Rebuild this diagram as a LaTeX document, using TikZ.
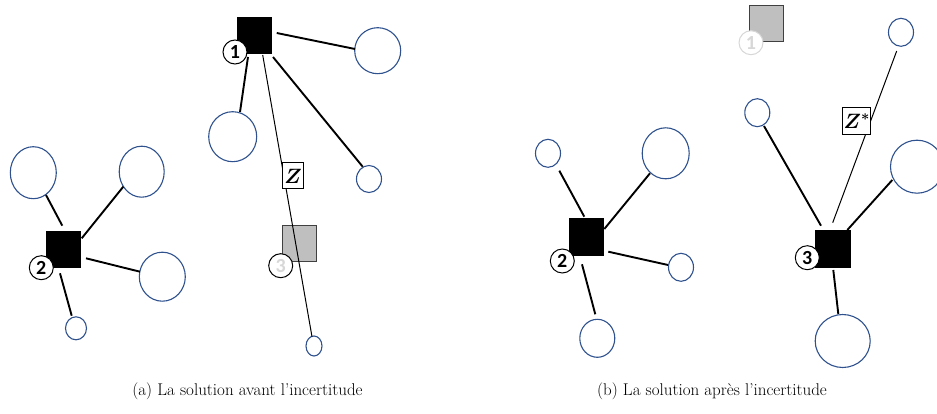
\documentclass[tikz,border=0pt]{standalone}
\usepackage{fontspec}
\usepackage{bm}
\newfontfamily\labfont{Carlito}
\usetikzlibrary{shapes.geometric,calc}
\definecolor{circblue}{RGB}{47,82,143}
\definecolor{boxgray}{RGB}{191,191,191}
\definecolor{boxedge}{RGB}{64,64,64}
\definecolor{fadegray}{RGB}{215,215,215}
\tikzset{
  cust/.style={ellipse, draw=circblue, line width=1.1pt, fill=white, inner sep=0pt},
  dims/.style 2 args={minimum width=#1pt, minimum height=#2pt},
  fac/.style={rectangle, fill=black, minimum width=35pt, minimum height=37pt, inner sep=0pt},
  facoff/.style={rectangle, fill=boxgray, draw=boxedge, line width=1.3pt, minimum width=34pt, minimum height=36pt, inner sep=0pt},
  lab/.style={circle, draw=black, line width=1pt, fill=white, minimum size=24pt, inner sep=0pt, font=\labfont\bfseries\fontsize{20}{20}\selectfont},
  labfade/.style={lab, text=fadegray},
  labghost/.style={lab, draw=fadegray, text=fadegray},
  link/.style={line width=1.9pt},
  thinlink/.style={line width=1pt},
  zbox/.style={rectangle, draw=black, line width=1pt, fill=white, inner sep=0pt, minimum height=26pt, font=\fontsize{20}{20}\selectfont},
  captext/.style={font=\fontsize{17}{20}\selectfont, inner sep=0pt}
}
\begin{document}
\begin{tikzpicture}[x=1pt,y=-1pt]
\useasboundingbox (0,0) rectangle (937,414);
\clip (0,0) rectangle (937,414);
% ---------- panel (a) ----------
\node[cust, dims={46}{46}] (A1) at (377.7,50.7) {};
\node[cust, dims={48}{50}] (A2) at (232.7,136.7) {};
\node[cust, dims={25}{27}] (A3) at (369,179) {};
\node[cust, dims={16}{20}] (A4) at (314,346) {};
\node[cust, dims={46}{52}] (B1) at (33.3,172.7) {};
\node[cust, dims={45}{51}] (B2) at (141.7,171.7) {};
\node[cust, dims={46}{49}] (B3) at (162.3,276.7) {};
\node[cust, dims={21}{23}] (B4) at (76,328.3) {};
\node[fac] (S1) at (254,36) {};
\node[fac] (S2) at (63.8,249.3) {};
\node[facoff] (G3) at (299.7,243.3) {};
\draw[link] ($(S1)+(22.7,-3)$) -- ($(A1)+(-22.7,-1.7)$);
\draw[link] ($(S1)+(-6,21)$) -- ($(A2)+(7.3,-24.7)$);
\draw[link] ($(S1)+(19,21)$) -- ($(A3)+(-6.3,-12.3)$);
\draw[thinlink] ($(S1)+(8.7,19)$) -- ($(A4)+(-2,-9.3)$);
\draw[link] ($(S2)+(-1.5,-23.6)$) -- ($(B1)+(12.7,22.3)$);
\draw[link] ($(S2)+(17.9,-11)$) -- ($(B2)+(-18.4,15)$);
\draw[link] ($(S2)+(22.2,9)$) -- ($(B3)+(-22.3,-5)$);
\draw[link] ($(S2)+(-3.8,24)$) -- ($(B4)+(-4.3,-12.6)$);
\node[lab] (L1) at (235,52) {1};
\node[lab] (L2) at (41.3,267.7) {2};
\node[labfade] (L3) at (280.7,265.7) {3};
\node[zbox, minimum width=21pt] (Z) at (293,176) {$\bm{Z}$};
% ---------- panel (b) ----------
\node[cust, dims={25}{28}] (C1) at (548,153.3) {};
\node[cust, dims={47}{51}] (C2) at (665.7,153.3) {};
\node[cust, dims={25}{28}] (C3) at (681,267.3) {};
\node[cust, dims={35}{38}] (C4) at (597.3,338.3) {};
\node[cust, dims={25}{28}] (D1) at (757.3,112.7) {};
\node[cust, dims={25}{28}] (D2) at (901,32.3) {};
\node[cust, dims={53}{53}] (D3) at (917,166.7) {};
\node[cust, dims={55}{53}] (D4) at (842.7,341) {};
\node[fac] (T2) at (586.7,237) {};
\node[fac, minimum width=36pt, minimum height=38pt] (T3) at (832.8,249) {};
\node[facoff] (G1) at (766.8,23.8) {};
\draw[link] ($(T2)+(-2.4,-20.3)$) -- ($(C1)+(11.3,17.4)$);
\draw[link] ($(T2)+(17.6,-8)$) -- ($(C2)+(-15.7,20)$);
\draw[link] ($(T2)+(21.6,14.7)$) -- ($(C3)+(-13,-2.3)$);
\draw[link] ($(T2)+(-4.7,27.3)$) -- ($(C4)+(-2,-24)$);
\draw[link] ($(T3)+(-11.8,-23.3)$) -- ($(D1)+(6.7,13.3)$);
\draw[thinlink] ($(T3)+(-0.1,-26.3)$) -- ($(D2)+(-4.3,18.7)$);
\draw[link] ($(T3)+(14.5,-19)$) -- ($(D3)+(-24.7,13.3)$);
\draw[link] ($(T3)+(0.5,21)$) -- ($(D4)+(-4.4,-27)$);
\node[lab] (M2) at (562.3,261) {2};
\node[lab] (M3) at (807.3,257.7) {3};
\node[labghost] (M1) at (751,42.7) {1};
\node[zbox, minimum width=28pt, minimum height=27pt] (Zs) at (856.8,121.3) {$\bm{Z^{*}}$};
% ---------- captions ----------
\node[captext] (capa) at (247.5,391) {(a) La solution avant l’incertitude};
\node[captext] (capb) at (712,391) {(b) La solution après l’incertitude};
\end{tikzpicture}
\end{document}
